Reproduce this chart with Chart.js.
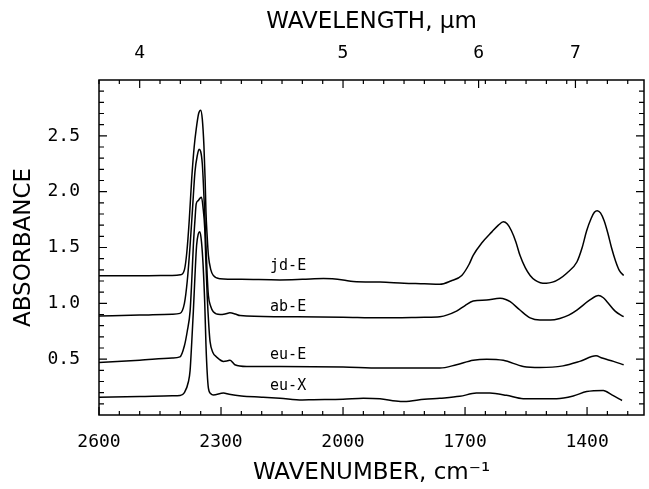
<!DOCTYPE html>
<html lang="en">
<head>
    <meta charset="UTF-8">
    <title>Absorbance spectra</title>
    <script src="https://cdn.jsdelivr.net/npm/chart.js"></script>
    <style>
        html, body {
            margin: 0;
            padding: 0;
            background: #fff;
        }
        .chart-container {
            width: 649px;
            height: 489px;
        }
    </style>
</head>
<body>

<div class="chart-container">
    <canvas id="spectraChart"></canvas>
</div>

<script>
// Axis ticks
const wavenumberTicks = [2600, 2300, 2000, 1700, 1400];
const wavelengthTicks = [4, 5, 6, 7];
const absorbanceTicks = [0.5, 1.0, 1.5, 2.0, 2.5];

// Spectra (wavenumber in cm-1, absorbance)
const jdE_nu = [2600, 2500, 2420, 2400, 2390, 2384, 2378, 2372, 2366, 2361, 2355, 2350, 2346, 2342, 2339, 2337, 2334, 2331, 2325, 2319, 2302, 2250, 2155, 2100, 2048, 2000, 1975, 1909, 1850, 1800, 1762, 1735, 1708, 1690, 1680, 1659, 1634, 1618, 1606, 1596, 1586, 1575, 1565, 1552, 1540, 1527, 1515, 1500, 1485, 1468, 1450, 1425, 1412, 1401, 1390, 1382, 1375, 1367, 1358, 1349, 1340, 1330, 1320, 1310];
const jdE_abs = [1.247, 1.247, 1.25, 1.255, 1.30, 1.46, 1.75, 2.12, 2.40, 2.56, 2.70, 2.73, 2.65, 2.41, 2.10, 1.82, 1.60, 1.43, 1.30, 1.25, 1.22, 1.215, 1.21, 1.215, 1.222, 1.21, 1.195, 1.19, 1.18, 1.175, 1.17, 1.20, 1.25, 1.35, 1.43, 1.54, 1.64, 1.70, 1.73, 1.71, 1.65, 1.55, 1.43, 1.32, 1.25, 1.205, 1.185, 1.18, 1.19, 1.22, 1.27, 1.37, 1.50, 1.65, 1.76, 1.815, 1.83, 1.81, 1.74, 1.63, 1.50, 1.38, 1.29, 1.25];

const abE_nu = [2600, 2500, 2420, 2401, 2390, 2383, 2376, 2370, 2364, 2358, 2354, 2350, 2346, 2344, 2340, 2337, 2334, 2331, 2325, 2319, 2302, 2290, 2278, 2265, 2253, 2155, 2000, 1909, 1800, 1762, 1721, 1700, 1680, 1647, 1614, 1600, 1589, 1565, 1540, 1516, 1490, 1467, 1445, 1425, 1393, 1372, 1360, 1351, 1331, 1310];
const abE_abs = [0.887, 0.895, 0.903, 0.91, 1.0, 1.2, 1.52, 1.85, 2.18, 2.33, 2.38, 2.36, 2.25, 2.12, 1.80, 1.52, 1.25, 1.07, 0.97, 0.925, 0.90, 0.905, 0.915, 0.905, 0.89, 0.88, 0.875, 0.87, 0.875, 0.88, 0.93, 0.98, 1.02, 1.03, 1.045, 1.035, 1.015, 0.94, 0.87, 0.85, 0.85, 0.865, 0.895, 0.94, 1.03, 1.07, 1.05, 1.015, 0.93, 0.88];

const euE_nu = [2600, 2500, 2420, 2401, 2390, 2383, 2376, 2372, 2368, 2364, 2361, 2356, 2352, 2348, 2344, 2340, 2337, 2334, 2330, 2327, 2320, 2311, 2294, 2284, 2278, 2270, 2266, 2237, 2155, 2000, 1909, 1762, 1721, 1680, 1647, 1606, 1557, 1516, 1459, 1418, 1378, 1363, 1335, 1310];
const euE_abs = [0.47, 0.49, 0.51, 0.52, 0.62, 0.75, 0.93, 1.2, 1.52, 1.75, 1.89, 1.92, 1.94, 1.95, 1.85, 1.67, 1.35, 1.07, 0.80, 0.66, 0.56, 0.52, 0.48, 0.485, 0.49, 0.465, 0.45, 0.435, 0.435, 0.43, 0.42, 0.42, 0.45, 0.49, 0.50, 0.49, 0.435, 0.425, 0.44, 0.48, 0.53, 0.51, 0.48, 0.45];

const euX_nu = [2600, 2500, 2420, 2401, 2390, 2380, 2376, 2372, 2368, 2364, 2360, 2356, 2352, 2348, 2344, 2340, 2337, 2334, 2331, 2325, 2319, 2294, 2280, 2250, 2200, 2155, 2100, 2073, 2000, 1950, 1909, 1870, 1850, 1800, 1762, 1713, 1672, 1639, 1598, 1557, 1475, 1434, 1401, 1360, 1339, 1314];
const euX_abs = [0.158, 0.165, 0.172, 0.175, 0.20, 0.30, 0.40, 0.65, 0.93, 1.25, 1.52, 1.62, 1.64, 1.55, 1.34, 1.00, 0.63, 0.38, 0.24, 0.19, 0.18, 0.196, 0.185, 0.17, 0.16, 0.15, 0.135, 0.137, 0.14, 0.15, 0.145, 0.125, 0.12, 0.14, 0.15, 0.167, 0.196, 0.196, 0.176, 0.146, 0.146, 0.17, 0.21, 0.22, 0.18, 0.13];

// Curve labels
const labelNames = ['jd-E', 'ab-E', 'eu-E', 'eu-X'];
const labelNu = [2135, 2135, 2135, 2135];
const labelAbs = [1.33, 0.97, 0.535, 0.26];

const tickFont = { family: 'DejaVu Sans Mono', size: 18 };
const titleFont = { family: 'DejaVu Sans', size: 23 };

function toPoints(nu, abs) {
    return nu.map((v, i) => ({ x: v, y: abs[i] }));
}

function lineSet(nu, abs) {
    return {
        data: toPoints(nu, abs),
        borderColor: '#000',
        borderWidth: 1.5,
        pointRadius: 0,
        fill: false,
        cubicInterpolationMode: 'monotone'
    };
}

// Frame with inward tick marks, plus the curve labels
const framePlugin = {
    id: 'frame',
    afterDraw(chart) {
        const ctx = chart.ctx;
        const a = chart.chartArea;
        const x = chart.scales.x;
        const y = chart.scales.y;
        ctx.save();
        ctx.strokeStyle = '#000';
        ctx.lineWidth = 1.5;
        ctx.strokeRect(a.left, a.top, a.right - a.left, a.bottom - a.top);
        ctx.lineWidth = 1.2;
        ctx.beginPath();
        for (let nu = 2600; nu >= 1300; nu -= 50) {
            const px = x.getPixelForValue(nu);
            const major = wavenumberTicks.includes(nu);
            ctx.moveTo(px, a.bottom);
            ctx.lineTo(px, a.bottom - (major ? 8 : 4));
            ctx.moveTo(px, a.top);
            ctx.lineTo(px, a.top + 4);
        }
        wavelengthTicks.forEach(lam => {
            const px = x.getPixelForValue(10000 / lam);
            ctx.moveTo(px, a.top);
            ctx.lineTo(px, a.top + 8);
        });
        for (let i = 1; i < 30; i++) {
            const py = y.getPixelForValue(i / 10);
            const len = i % 5 === 0 ? 8 : 5;
            ctx.moveTo(a.left, py);
            ctx.lineTo(a.left + len, py);
            ctx.moveTo(a.right, py);
            ctx.lineTo(a.right - len, py);
        }
        ctx.stroke();

        ctx.fillStyle = '#000';
        ctx.font = '15px "DejaVu Sans Mono"';
        ctx.textAlign = 'center';
        ctx.textBaseline = 'middle';
        labelNames.forEach((name, i) => {
            ctx.fillText(name, x.getPixelForValue(labelNu[i]), y.getPixelForValue(labelAbs[i]));
        });
        ctx.restore();
    }
};

new Chart(document.getElementById('spectraChart'), {
    type: 'line',
    data: {
        datasets: [
            lineSet(jdE_nu, jdE_abs),
            lineSet(abE_nu, abE_abs),
            lineSet(euE_nu, euE_abs),
            lineSet(euX_nu, euX_abs)
        ]
    },
    options: {
        responsive: true,
        maintainAspectRatio: false,
        animation: false,
        layout: { padding: { left: 0, right: 5, top: 0, bottom: 0 } },
        plugins: {
            legend: { display: false },
            tooltip: { enabled: false }
        },
        scales: {
            x: {
                type: 'linear',
                position: 'bottom',
                reverse: true,
                min: 1260,
                max: 2600,
                grid: { display: false, drawTicks: false },
                border: { display: false },
                afterBuildTicks: scale => {
                    scale.ticks = wavenumberTicks.map(v => ({ value: v }));
                },
                afterFit: scale => { scale.height = 74; },
                ticks: {
                    font: tickFont,
                    color: '#000',
                    padding: 17,
                    maxRotation: 0,
                    callback: v => String(v)
                },
                title: {
                    display: true,
                    text: 'WAVENUMBER, cm\u207B\u00B9',
                    font: titleFont,
                    color: '#000',
                    padding: { top: 0, bottom: 2 }
                }
            },
            xTop: {
                type: 'linear',
                position: 'top',
                reverse: true,
                min: 1260,
                max: 2600,
                grid: { display: false, drawTicks: false },
                border: { display: false },
                afterBuildTicks: scale => {
                    scale.ticks = wavelengthTicks.map(l => ({ value: 10000 / l }));
                },
                afterFit: scale => { scale.height = 80; },
                ticks: {
                    font: tickFont,
                    color: '#000',
                    padding: 16,
                    maxRotation: 0,
                    callback: v => String(Math.round(10000 / v))
                },
                title: {
                    display: true,
                    text: 'WAVELENGTH, \u03BCm',
                    font: titleFont,
                    color: '#000',
                    padding: { top: 8, bottom: 0 }
                }
            },
            y: {
                type: 'linear',
                min: 0,
                max: 3,
                grid: { display: false, drawTicks: false },
                border: { display: false },
                afterBuildTicks: scale => {
                    scale.ticks = absorbanceTicks.map(v => ({ value: v }));
                },
                afterFit: scale => { scale.width = 99; },
                ticks: {
                    font: tickFont,
                    color: '#000',
                    padding: 19,
                    callback: v => v.toFixed(1)
                },
                title: {
                    display: true,
                    text: 'ABSORBANCE',
                    font: titleFont,
                    color: '#000',
                    padding: { top: 10, bottom: 0 }
                }
            }
        }
    },
    plugins: [framePlugin]
});
</script>
</body>
</html>
